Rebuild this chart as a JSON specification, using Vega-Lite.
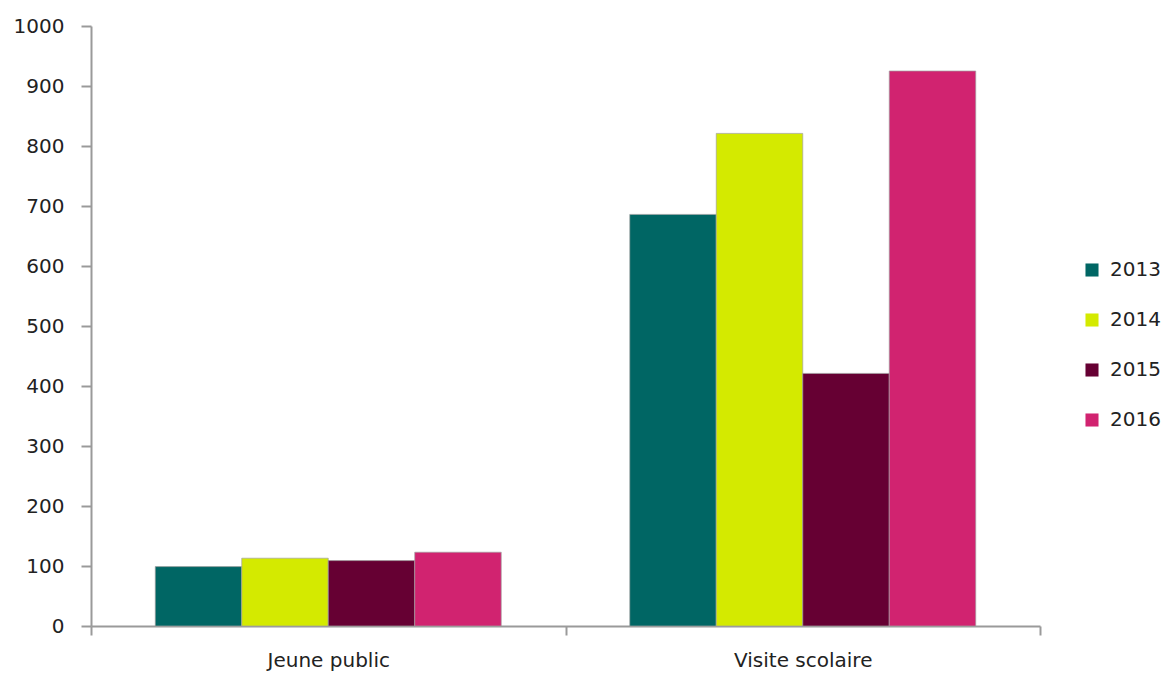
{
  "$schema": "https://vega.github.io/schema/vega-lite/v6.json",
  "autosize": {"type": "none"},
  "width": 949,
  "height": 600,
  "padding": {"left": 91, "top": 26, "right": 124, "bottom": 47},
  "background": "white",
  "config": {"view": {"stroke": null}, "font": "DejaVu Sans"},
  "data": {
    "values": [
      {"categorie": "Jeune public", "annee": "2013", "valeur": 99},
      {"categorie": "Jeune public", "annee": "2014", "valeur": 113},
      {"categorie": "Jeune public", "annee": "2015", "valeur": 109},
      {"categorie": "Jeune public", "annee": "2016", "valeur": 123},
      {"categorie": "Visite scolaire", "annee": "2013", "valeur": 686},
      {"categorie": "Visite scolaire", "annee": "2014", "valeur": 821},
      {"categorie": "Visite scolaire", "annee": "2015", "valeur": 421},
      {"categorie": "Visite scolaire", "annee": "2016", "valeur": 925}
    ]
  },
  "mark": {"type": "bar", "stroke": "#a0a0a0", "strokeWidth": 0.7},
  "encoding": {
    "x": {
      "field": "categorie",
      "type": "nominal",
      "title": null,
      "scale": {"paddingInner": 0, "paddingOuter": 0},
      "axis": {
        "labelAngle": 0,
        "labelFontSize": 20,
        "labelColor": "#222222",
        "labelPadding": 15,
        "tickBand": "extent",
        "tickSize": 9,
        "tickWidth": 2,
        "tickColor": "#9a9a9a",
        "domainColor": "#9a9a9a",
        "domainWidth": 2,
        "grid": false
      }
    },
    "xOffset": {
      "field": "annee",
      "type": "nominal",
      "scale": {"paddingInner": 0, "paddingOuter": 0.743}
    },
    "y": {
      "field": "valeur",
      "type": "quantitative",
      "title": null,
      "scale": {"domain": [0, 1000], "nice": false},
      "axis": {
        "values": [0, 100, 200, 300, 400, 500, 600, 700, 800, 900, 1000],
        "format": "d",
        "labelFontSize": 20,
        "labelColor": "#222222",
        "labelPadding": 17,
        "tickSize": 10,
        "tickWidth": 2,
        "tickColor": "#9a9a9a",
        "domainColor": "#9a9a9a",
        "domainWidth": 2,
        "grid": false
      }
    },
    "color": {
      "field": "annee",
      "type": "nominal",
      "title": null,
      "scale": {
        "domain": ["2013", "2014", "2015", "2016"],
        "range": ["#006664", "#d4ea00", "#660033", "#d12370"]
      },
      "legend": {
        "orient": "none",
        "legendX": 991,
        "legendY": 234,
        "symbolType": "square",
        "symbolSize": 170,
        "symbolStrokeWidth": 0,
        "labelFontSize": 20,
        "labelColor": "#222222",
        "rowPadding": 30,
        "labelOffset": 8
      }
    }
  }
}
